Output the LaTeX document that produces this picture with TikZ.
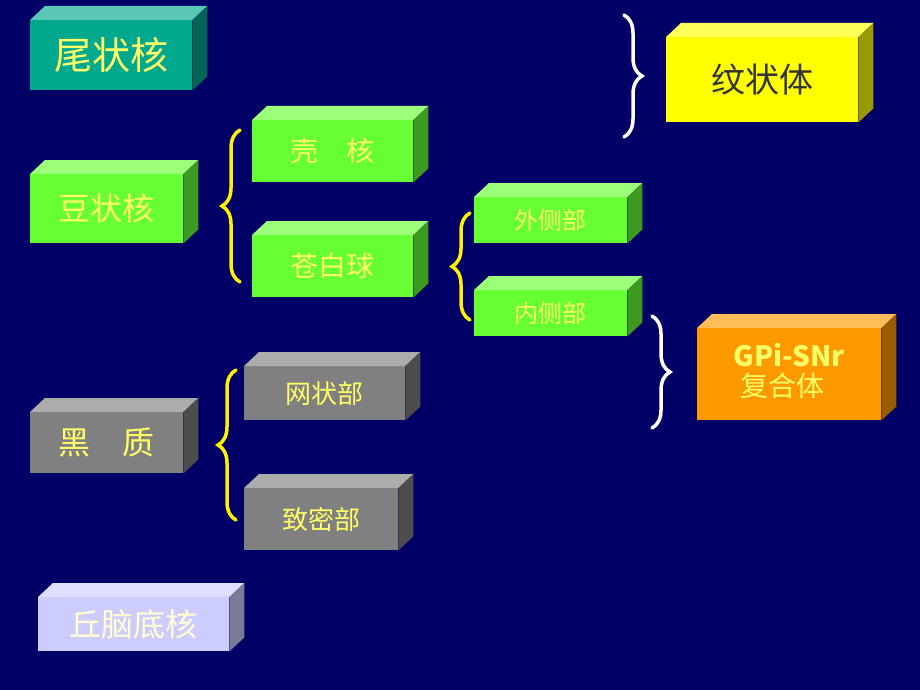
\documentclass[tikz,border=0pt]{standalone}
\usepackage{fontspec}
\setmainfont{Noto Sans CJK SC}
\usetikzlibrary{positioning, decorations.pathreplacing}
\definecolor{bgblue}{HTML}{000066}
\definecolor{teal3d}{HTML}{00A88E}
\definecolor{green3d}{HTML}{66FF33}
\definecolor{yellow3d}{HTML}{FFFF00}
\definecolor{orange3d}{HTML}{FF9900}
\definecolor{gray3d}{HTML}{808080}
\definecolor{lav3d}{HTML}{CCCCFF}
\definecolor{txtyel}{HTML}{FFFF66}
\tikzset{
  front/.style={anchor=north west, inner sep=0pt, font=#1},
  brace/.style={decorate, decoration={brace, amplitude=18pt}, line width=3.5pt, line cap=round},
}
% name, x, y, w, h, colour, text colour, size, text
\newcommand{\slab}[9]{%
  \node[front=\fontsize{#8}{#8}\selectfont, fill=#6, text=#7, minimum width=#4pt, minimum height=#5pt] (#1) at (#2,#3) {#9};
  \fill[#6!65!white] (#1.north west) -- ++(15,-14) -- ([shift={(15,-14)}]#1.north east) -- (#1.north east) -- cycle;
  \fill[#6!60!black] (#1.north east) -- ++(15,-14) -- ([shift={(15,-14)}]#1.south east) -- (#1.south east) -- cycle;
}
\begin{document}
\begin{tikzpicture}[x=1pt,y=-1pt]
  \fill[bgblue] (0,0) rectangle (920,690);
  \useasboundingbox (0,0) rectangle (920,690);
  % boxes
  \slab{caudate}{30}{20}{162}{70}{teal3d}{txtyel}{38}{尾状核}
  \slab{striatum}{666}{37}{192}{85}{yellow3d}{black!80}{34}{纹状体}
  \slab{lentiform}{30}{174}{153}{69}{green3d}{txtyel}{32}{豆状核}
  \slab{putamen}{252}{120}{161}{62}{green3d}{txtyel}{28}{壳\quad 核}
  \slab{pallidum}{252}{235}{161}{62}{green3d}{txtyel}{28}{苍白球}
  \slab{outer}{474}{197}{153}{46}{green3d}{txtyel}{24}{外侧部}
  \slab{inner}{474}{290}{153}{46}{green3d}{txtyel}{24}{内侧部}
  \slab{gpisnr}{697}{328}{184}{92}{orange3d}{txtyel}{28}{\begin{tabular}{@{}l@{}}\textbf{GPi-SNr}\\[-2pt]\ 复合体\end{tabular}}
  \slab{nigra}{30}{412}{153}{61}{gray3d}{txtyel}{32}{黑\quad 质}
  \slab{reticular}{244}{366}{161}{54}{gray3d}{txtyel}{26}{网状部}
  \slab{compact}{244}{488}{154}{62}{gray3d}{txtyel}{26}{致密部}
  \slab{subthal}{38}{597}{191}{54}{lav3d}{txtyel!30!white}{32}{丘脑底核}
  % braces
  \draw[brace, white] (624,15) -- (624,137);
  \draw[brace, yellow] (240,282) -- (240,130);
  \draw[brace, yellow] (470,320) -- (470,213);
  \draw[brace, white] (652,316) -- (652,428);
  \draw[brace, yellow] (236,520) -- (236,370);
\end{tikzpicture}
\end{document}
